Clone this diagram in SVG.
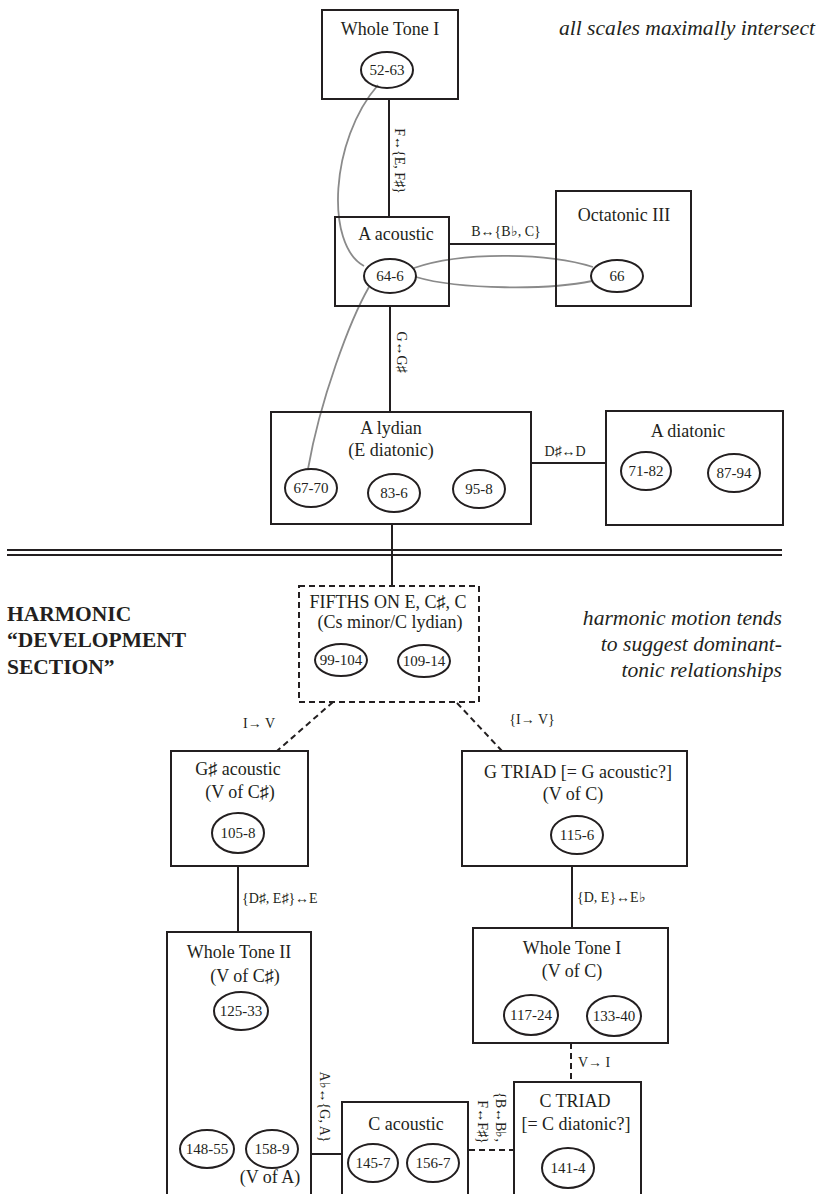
<svg xmlns="http://www.w3.org/2000/svg" width="821" height="1194" viewBox="0 0 821 1194">
<style>
.box{fill:none;stroke:#231f20;stroke-width:2}
.dbox{fill:none;stroke:#231f20;stroke-width:2;stroke-dasharray:6 4}
.ell{fill:none;stroke:#231f20;stroke-width:2}
.t{font-family:"Liberation Serif",serif;font-size:18px;fill:#231f20;text-anchor:middle}
.n{font-family:"Liberation Serif",serif;font-size:15px;fill:#231f20;text-anchor:middle}
.e{font-family:"Liberation Serif",serif;font-size:14px;fill:#231f20}
.m{text-anchor:middle}
.line{stroke:#231f20;stroke-width:2;fill:none}
.dash{stroke:#231f20;stroke-width:2;fill:none;stroke-dasharray:6 4}
.gray{stroke:#8a8a8a;stroke-width:1.8;fill:none}
.it{font-family:"Liberation Serif",serif;font-style:italic;font-size:21.6px;fill:#231f20;text-anchor:end}
.bold{font-family:"Liberation Serif",serif;font-weight:bold;font-size:21.5px;fill:#231f20}
</style>

<g id="connectors">
  <path class="line" d="M389,99 V217"/>
  <path class="line" d="M449,244 H556"/>
  <path class="line" d="M390,306 V412"/>
  <path class="line" d="M531,463 H606"/>
  <path class="line" d="M392,524 V586"/>
  <path class="line" d="M7,550 H782"/>
  <path class="line" d="M7,555 H782"/>
  <path class="dash" d="M333,702 L277,751"/>
  <path class="dash" d="M457,703 L502,751"/>
  <path class="line" d="M238,866 V932"/>
  <path class="line" d="M572,866 V928"/>
  <path class="dash" d="M571,1043 V1082"/>
  <path class="line" d="M311,1154 H342"/>
  <path class="dash" d="M469,1150 H514"/>
  <path class="gray" d="M378,85 C330,140 325,245 364,266"/>
  <path class="gray" d="M369,287 C350,320 320,400 308,469"/>
  <path class="gray" d="M414,268 C460,252 545,252 593,267"/>
  <path class="gray" d="M416,277 C460,290 550,290 592,281"/>
  <text class="e m" transform="translate(395,161) rotate(90)">F↔{E, F♯}</text>
  <text class="e m" x="506" y="236">B↔{B♭, C}</text>
  <text class="e m" transform="translate(397,352) rotate(90)">G↔G♯</text>
  <text class="e m" x="565" y="456">D♯↔D</text>
  <text class="e m" x="259" y="728">I→ V</text>
  <text class="e m" x="532" y="724">{I→ V}</text>
  <text class="e" x="242" y="903">{D♯, E♯}↔E</text>
  <text class="e" x="577" y="902">{D, E}↔E♭</text>
  <text class="e" x="578" y="1067">V→ I</text>
  <text class="e m" transform="translate(320,1107) rotate(90)">A♭↔{G, A}</text>
  <text class="e m" transform="translate(496,1117) rotate(90)">{B↔B♭,</text>
  <text class="e m" transform="translate(478,1122) rotate(90)">F↔F♯}</text>
</g>

<g id="annotations">
  <text class="it" x="815" y="35">all scales maximally intersect</text>
  <text class="it" x="782" y="625">harmonic motion tends</text>
  <text class="it" x="782" y="651">to suggest dominant-</text>
  <text class="it" x="782" y="677">tonic relationships</text>
  <text class="bold" x="7" y="621">HARMONIC</text>
  <text class="bold" x="7" y="647">“DEVELOPMENT</text>
  <text class="bold" x="7" y="674">SECTION”</text>
</g>

<g id="wt1-top">
  <rect class="box" x="322" y="10" width="136" height="89"/>
  <text class="t" x="390" y="35">Whole Tone I</text>
  <ellipse class="ell" cx="387" cy="70" rx="26" ry="18"/>
  <text class="n" x="387" y="75">52-63</text>
</g>

<g id="a-acoustic">
  <rect class="box" x="335" y="217" width="114" height="89"/>
  <text class="t" x="396" y="240">A acoustic</text>
  <ellipse class="ell" cx="390" cy="276" rx="26" ry="17"/>
  <text class="n" x="390" y="281">64-6</text>
</g>

<g id="octatonic">
  <rect class="box" x="556" y="191" width="135" height="115"/>
  <text class="t" x="624" y="221">Octatonic III</text>
  <ellipse class="ell" cx="617" cy="276" rx="26" ry="16"/>
  <text class="n" x="617" y="281">66</text>
</g>

<g id="a-lydian">
  <rect class="box" x="271" y="412" width="260" height="112"/>
  <text class="t" x="391" y="434">A lydian</text>
  <text class="t" x="391" y="456">(E diatonic)</text>
  <ellipse class="ell" cx="311" cy="488" rx="26" ry="19"/>
  <text class="n" x="311" y="493">67-70</text>
  <ellipse class="ell" cx="394" cy="493" rx="26" ry="19"/>
  <text class="n" x="394" y="498">83-6</text>
  <ellipse class="ell" cx="479" cy="489" rx="26" ry="19"/>
  <text class="n" x="479" y="494">95-8</text>
</g>

<g id="a-diatonic">
  <rect class="box" x="606" y="411" width="177" height="114"/>
  <text class="t" x="688" y="437">A diatonic</text>
  <ellipse class="ell" cx="646" cy="471" rx="25" ry="19"/>
  <text class="n" x="646" y="476">71-82</text>
  <ellipse class="ell" cx="734" cy="473" rx="26" ry="19"/>
  <text class="n" x="734" y="478">87-94</text>
</g>

<g id="fifths">
  <rect class="dbox" x="299" y="586" width="180" height="116"/>
  <text class="t" x="388" y="608">FIFTHS ON E, C♯, C</text>
  <text class="t" x="390" y="628">(Cs minor/C lydian)</text>
  <ellipse class="ell" cx="341" cy="660" rx="26" ry="16"/>
  <text class="n" x="341" y="665">99-104</text>
  <ellipse class="ell" cx="424" cy="661" rx="26" ry="16"/>
  <text class="n" x="424" y="666">109-14</text>
</g>

<g id="gsharp-acoustic">
  <rect class="box" x="171" y="751" width="137" height="115"/>
  <text class="t" x="238" y="775">G♯ acoustic</text>
  <text class="t" x="240" y="798">(V of C♯)</text>
  <ellipse class="ell" cx="238" cy="833" rx="26" ry="20"/>
  <text class="n" x="238" y="838">105-8</text>
</g>

<g id="g-triad">
  <rect class="box" x="462" y="751" width="225" height="115"/>
  <text class="t" x="578" y="778">G TRIAD [= G acoustic?]</text>
  <text class="t" x="573" y="800">(V of C)</text>
  <ellipse class="ell" cx="577" cy="835" rx="26" ry="19"/>
  <text class="n" x="577" y="840">115-6</text>
</g>

<g id="wt2">
  <rect class="box" x="167" y="932" width="144" height="300"/>
  <text class="t" x="239" y="958">Whole Tone II</text>
  <text class="t" x="245" y="982">(V of C♯)</text>
  <ellipse class="ell" cx="241" cy="1011" rx="27" ry="19"/>
  <text class="n" x="241" y="1016">125-33</text>
  <ellipse class="ell" cx="207" cy="1149" rx="27" ry="19"/>
  <text class="n" x="207" y="1154">148-55</text>
  <ellipse class="ell" cx="272" cy="1149" rx="26" ry="19"/>
  <text class="n" x="272" y="1154">158-9</text>
  <text class="t" x="270" y="1183">(V of A)</text>
</g>

<g id="wt1-lower">
  <rect class="box" x="473" y="928" width="195" height="115"/>
  <text class="t" x="572" y="954">Whole Tone I</text>
  <text class="t" x="572" y="977">(V of C)</text>
  <ellipse class="ell" cx="531" cy="1015" rx="27" ry="20"/>
  <text class="n" x="531" y="1020">117-24</text>
  <ellipse class="ell" cx="614" cy="1016" rx="27" ry="20"/>
  <text class="n" x="614" y="1021">133-40</text>
</g>

<g id="c-acoustic">
  <rect class="box" x="342" y="1102" width="126" height="150"/>
  <text class="t" x="406" y="1130">C acoustic</text>
  <ellipse class="ell" cx="373" cy="1163" rx="25" ry="19"/>
  <text class="n" x="373" y="1168">145-7</text>
  <ellipse class="ell" cx="433" cy="1163" rx="26" ry="19"/>
  <text class="n" x="433" y="1168">156-7</text>
</g>

<g id="c-triad">
  <rect class="box" x="514" y="1082" width="127" height="150"/>
  <text class="t" x="575" y="1107">C TRIAD</text>
  <text class="t" x="576" y="1130">[= C diatonic?]</text>
  <ellipse class="ell" cx="568" cy="1168" rx="26" ry="20"/>
  <text class="n" x="568" y="1173">141-4</text>
</g>
</svg>
